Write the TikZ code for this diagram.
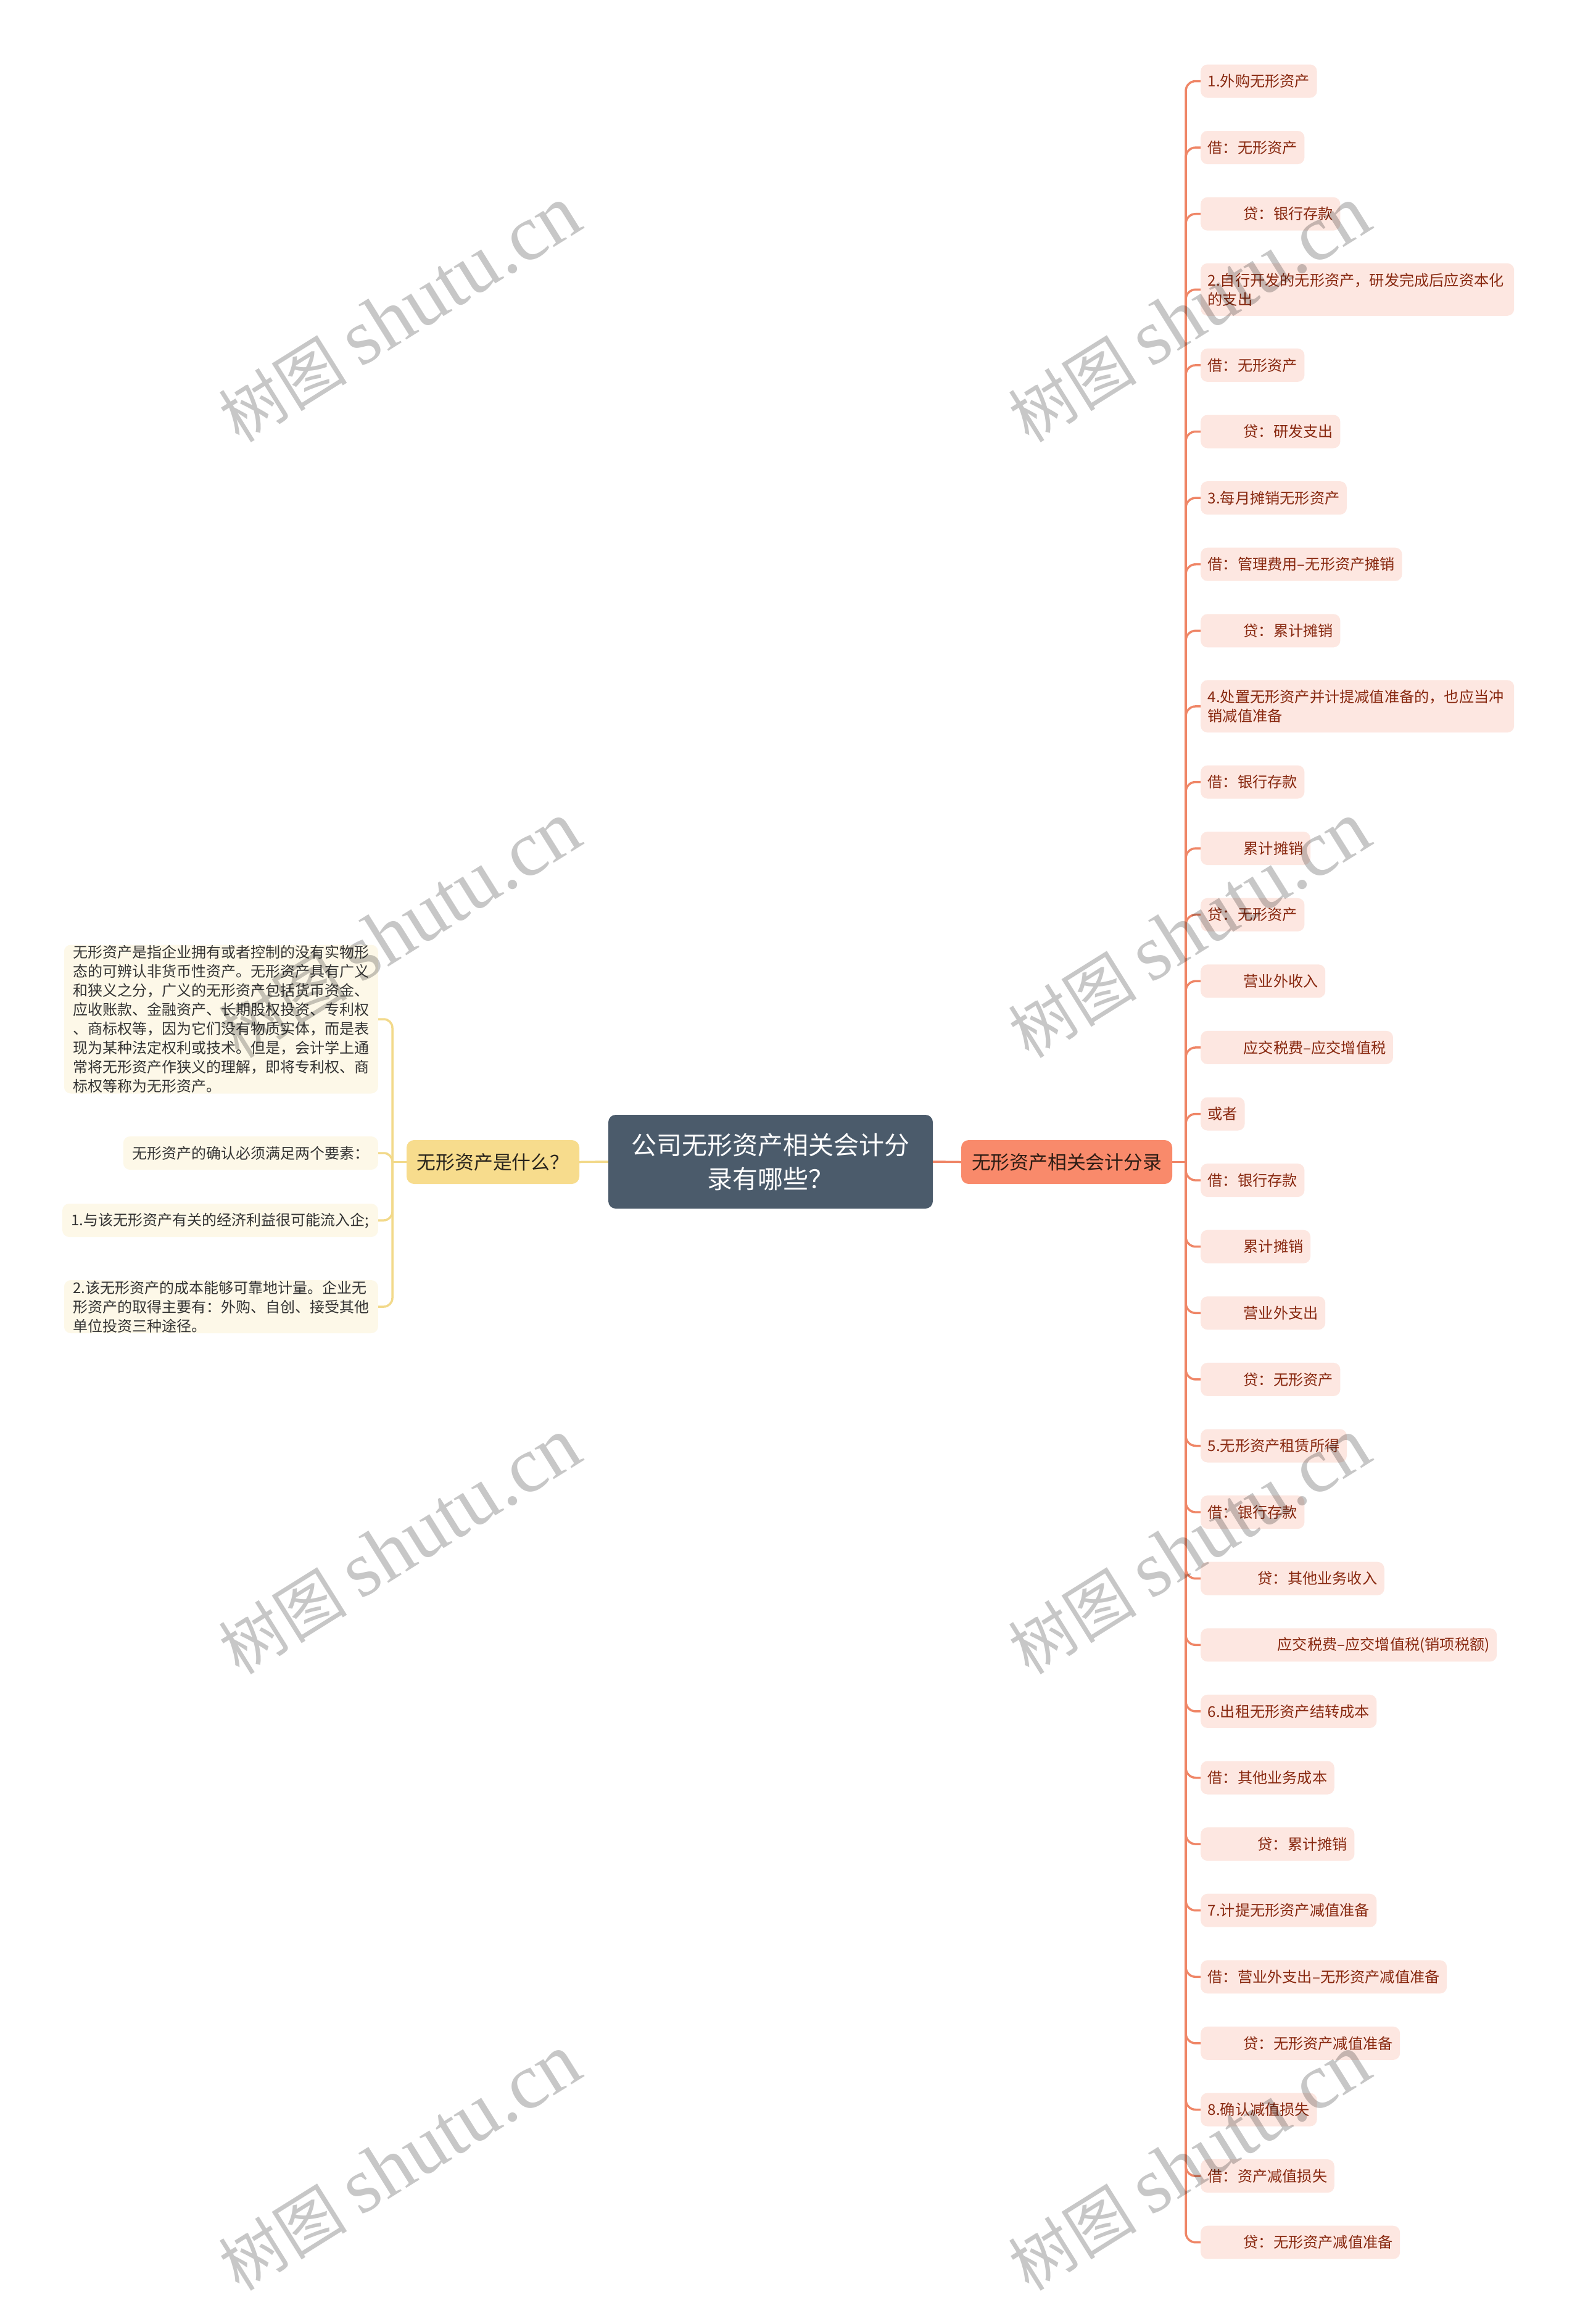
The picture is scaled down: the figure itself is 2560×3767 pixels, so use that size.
\documentclass[tikz,border=0pt]{standalone}
\usepackage{fontspec}
\setmainfont{Noto Sans CJK SC}
\newfontfamily\wmlatin{Liberation Serif}
\newcommand\ms{\rule[-0.12em]{0pt}{1em}}
\definecolor{cfill}{HTML}{4B5B6B}
\definecolor{ofill}{HTML}{F98A6B}
\definecolor{rline}{HTML}{EF8667}
\definecolor{rfill}{HTML}{FDE7E1}
\definecolor{rtext}{HTML}{88280F}
\definecolor{yfill}{HTML}{F7DC8D}
\definecolor{yline}{HTML}{F2D98A}
\definecolor{lfill}{HTML}{FDF8E8}
\definecolor{ltext}{HTML}{333333}
\tikzset{
  rleaf/.style={anchor=west, fill=rfill, rounded corners=11, inner xsep=11.5, inner ysep=0,
    minimum height=54, text=rtext, font=\fontsize{24.2}{31}\selectfont, align=left},
  rleaftwo/.style={rleaf, minimum height=85, text width=485},
  lleaf/.style={anchor=east, fill=lfill, rounded corners=11, inner xsep=14.5, inner ysep=0,
    minimum height=54, text=ltext, font=\fontsize{24}{31}\selectfont, align=left},
  cnode/.style={fill=cfill, rounded corners=12, minimum width=526, minimum height=152,
    inner sep=0, text=white, font=\fontsize{41}{55}\selectfont, align=center},
  onode/.style={fill=ofill, rounded corners=12, minimum width=342, minimum height=71,
    inner sep=0, text={rgb,255:red,45;green,28;blue,20}, font=\fontsize{30.8}{36}\selectfont},
  ynode/.style={fill=yfill, rounded corners=12, minimum width=280, minimum height=71,
    inner sep=0, text={rgb,255:red,40;green,36;blue,28}, font=\fontsize{30.8}{36}\selectfont},
  rcon/.style={draw=rline, line width=3.5},
  ycon/.style={draw=yline, line width=3.5},
  wm/.style={rotate=32, text=black, text opacity=0.22, inner sep=0},
}
\newcommand\ia{\hspace*{58pt}}
\newcommand\ib{\hspace*{81pt}}
\newcommand\ic{\hspace*{113pt}}
\begin{document}
\begin{tikzpicture}[x=1pt,y=-1pt]
\fill[white] (0,0) rectangle (2560,3767);
\useasboundingbox (0,0) rectangle (2560,3767);

% central and main branches
\node[cnode] (c) at (1249,1883) {\ms 公司无形资产相关会计分\\\ms 录有哪些？};
\node[onode] (o) at (1729,1883.5) {\ms 无形资产相关会计分录};
\node[ynode] (y) at (799,1883.5) {\ms 无形资产是什么？};

% left leaves
\node[lleaf] (l1) at (613,1652) {\ms 无形资产是指企业拥有或者控制的没有实物形\\\ms 态的可辨认非货币性资产。无形资产具有广义\\\ms 和狭义之分，广义的无形资产包括货币资金、\\\ms 应收账款、金融资产、长期股权投资、专利权\\\ms 、商标权等，因为它们没有物质实体，而是表\\\ms 现为某种法定权利或技术。但是，会计学上通\\\ms 常将无形资产作狭义的理解，即将专利权、商\\\ms 标权等称为无形资产。};
\node[lleaf] (l2) at (613,1869) {\ms 无形资产的确认必须满足两个要素：};
\node[lleaf] (l3) at (613,1978) {\ms 1.与该无形资产有关的经济利益很可能流入企;};
\node[lleaf] (l4) at (613,2118) {\ms 2.该无形资产的成本能够可靠地计量。企业无\\\ms 形资产的取得主要有：外购、自创、接受其他\\\ms 单位投资三种途径。};

% right leaves
\node[rleaf] (r1) at (1946,131.5) {\ms 1.外购无形资产};
\node[rleaf] (r2) at (1946,239.1) {\ms 借：无形资产};
\node[rleaf] (r3) at (1946,346.7) {\ms\ia 贷：银行存款};
\node[rleaftwo] (r4) at (1946,469.3) {\ms 2.自行开发的无形资产，研发完成后应资本化\\\ms 的支出};
\node[rleaf] (r5) at (1946,591.9) {\ms 借：无形资产};
\node[rleaf] (r6) at (1946,699.5) {\ms\ia 贷：研发支出};
\node[rleaf] (r7) at (1946,807.1) {\ms 3.每月摊销无形资产};
\node[rleaf] (r8) at (1946,914.7) {\ms 借：管理费用–无形资产摊销};
\node[rleaf] (r9) at (1946,1022.3) {\ms\ia 贷：累计摊销};
\node[rleaftwo] (r10) at (1946,1144.9) {\ms 4.处置无形资产并计提减值准备的，也应当冲\\\ms 销减值准备};
\node[rleaf] (r11) at (1946,1267.5) {\ms 借：银行存款};
\node[rleaf] (r12) at (1946,1375.1) {\ms\ia 累计摊销};
\node[rleaf] (r13) at (1946,1482.7) {\ms 贷：无形资产};
\node[rleaf] (r14) at (1946,1590.3) {\ms\ia 营业外收入};
\node[rleaf] (r15) at (1946,1697.9) {\ms\ia 应交税费–应交增值税};
\node[rleaf] (r16) at (1946,1805.5) {\ms 或者};
\node[rleaf] (r17) at (1946,1913.1) {\ms 借：银行存款};
\node[rleaf] (r18) at (1946,2020.7) {\ms\ia 累计摊销};
\node[rleaf] (r19) at (1946,2128.3) {\ms\ia 营业外支出};
\node[rleaf] (r20) at (1946,2235.9) {\ms\ia 贷：无形资产};
\node[rleaf] (r21) at (1946,2343.5) {\ms 5.无形资产租赁所得};
\node[rleaf] (r22) at (1946,2451.1) {\ms 借：银行存款};
\node[rleaf] (r23) at (1946,2558.7) {\ms\ib 贷：其他业务收入};
\node[rleaf] (r24) at (1946,2666.3) {\ms\ic 应交税费–应交增值税(销项税额)};
\node[rleaf] (r25) at (1946,2773.9) {\ms 6.出租无形资产结转成本};
\node[rleaf] (r26) at (1946,2881.5) {\ms 借：其他业务成本};
\node[rleaf] (r27) at (1946,2989.1) {\ms\ib 贷：累计摊销};
\node[rleaf] (r28) at (1946,3096.7) {\ms 7.计提无形资产减值准备};
\node[rleaf] (r29) at (1946,3204.3) {\ms 借：营业外支出–无形资产减值准备};
\node[rleaf] (r30) at (1946,3311.9) {\ms\ia 贷：无形资产减值准备};
\node[rleaf] (r31) at (1946,3419.5) {\ms 8.确认减值损失};
\node[rleaf] (r32) at (1946,3527.1) {\ms 借：资产减值损失};
\node[rleaf] (r33) at (1946,3634.7) {\ms\ia 贷：无形资产减值准备};

% junctions
\coordinate (jr) at (1922,1883.5);
\coordinate (jl) at (636,1883.5);

% connectors
\draw[rcon] (c.east) -- (o.west);
\draw[ycon] (c.west) -- (y.east);
\draw[rcon] (o.east) -- (jr);
\draw[ycon] (y.west) -- (jl);
\foreach \i in {1,...,33} { \draw[rcon, rounded corners=16] (jr) |- (r\i.west); }
\foreach \i in {1,...,4} { \draw[ycon, rounded corners=14] (jl) |- (l\i.east); }

% watermarks
\foreach \wx in {648,1928} {
  \foreach \wy in {510,1508,2507,3506} {
    \node[wm] at (\wx,\wy) {\fontsize{104}{104}\selectfont 树图 {\wmlatin\fontsize{128}{128}\selectfont shutu.cn}};
  }
}
\end{tikzpicture}
\end{document}
